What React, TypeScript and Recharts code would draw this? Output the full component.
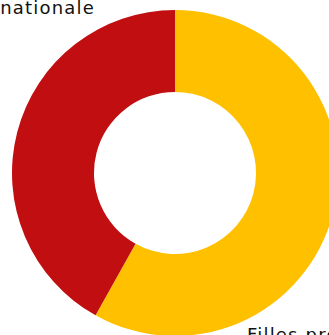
import { PieChart, Pie, Cell } from 'recharts'

const categories = ['Filles pro', 'Moyenne nationale']
const values = [58.1, 41.9]
const colors = ['#FFC000', '#C00E11']

const data = categories.map((name, i) => ({ name, value: values[i] }))

export default function App() {
  return (
    <div
      style={{
        position: 'fixed',
        top: 0,
        left: 0,
        width: 329,
        height: 335,
        overflow: 'hidden',
        background: '#fff',
        fontFamily: "'DejaVu Sans', sans-serif",
      }}
    >
      <PieChart width={329} height={335} margin={{ top: 0, right: 0, bottom: 0, left: 0 }}>
        <Pie
          data={data}
          dataKey="value"
          nameKey="name"
          cx={175}
          cy={173}
          innerRadius={81}
          outerRadius={163}
          startAngle={90}
          endAngle={-270}
          stroke="none"
          isAnimationActive={false}
        >
          {data.map((d, i) => (
            <Cell key={d.name} fill={colors[i]} />
          ))}
        </Pie>
      </PieChart>
      {/* labels sit partly outside the frame, as in the source */}
      <div
        style={{
          position: 'absolute',
          right: 329 - 95,
          top: -3,
          fontSize: 18,
          letterSpacing: 1.2,
          color: '#111',
          whiteSpace: 'nowrap',
        }}
      >
        {categories[1]}
      </div>
      <div
        style={{
          position: 'absolute',
          left: 247,
          top: 324,
          fontSize: 18,
          letterSpacing: 1.2,
          color: '#111',
          whiteSpace: 'nowrap',
        }}
      >
        {categories[0]}
      </div>
    </div>
  )
}
